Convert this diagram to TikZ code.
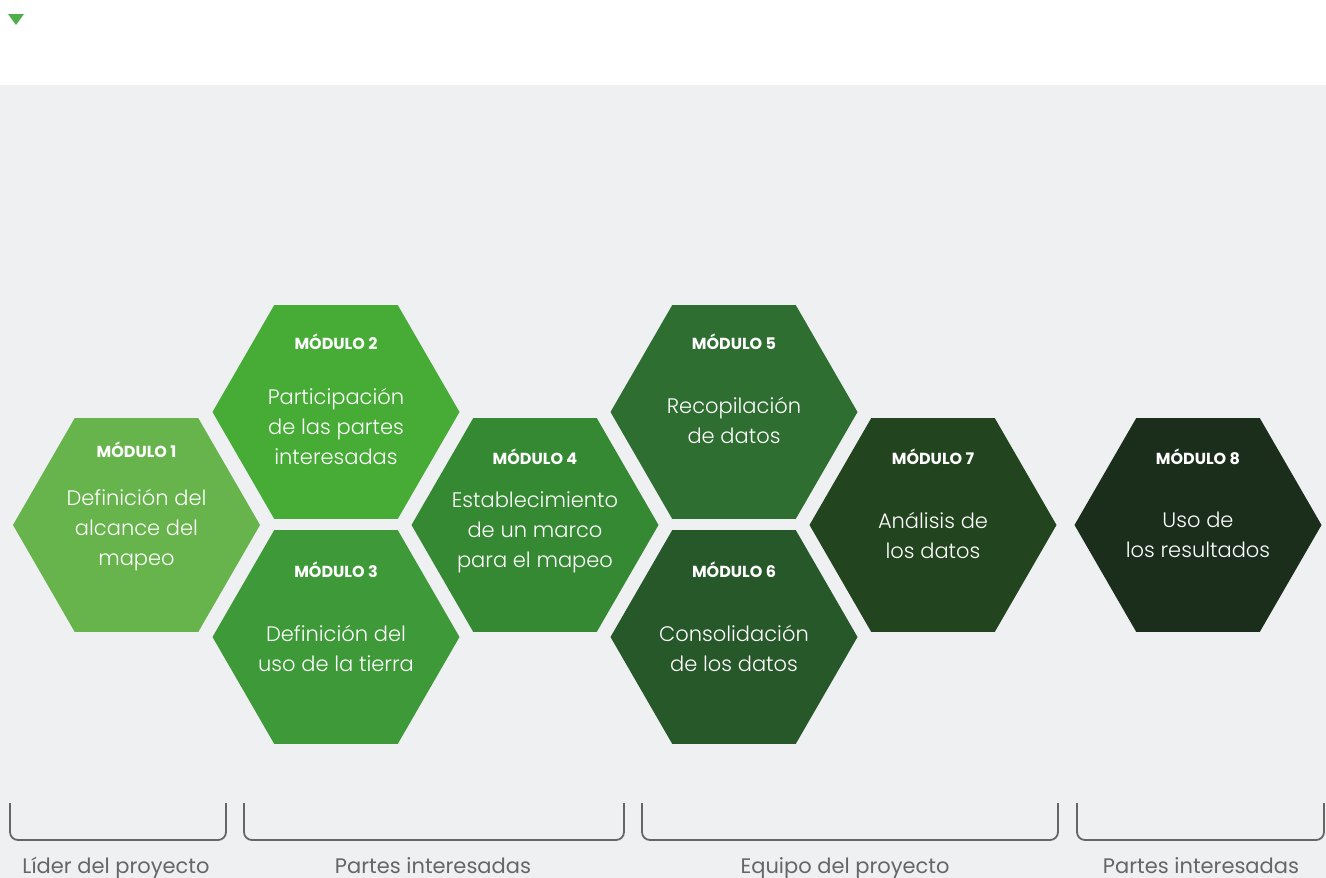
\documentclass[tikz,border=0pt]{standalone}
\usepackage{fontspec}
\setmainfont{Poppins}[UprightFont=* Light, BoldFont=* Bold]
\newfontfamily\grupofont{Poppins}
\usepackage{tikz}
\usetikzlibrary{shapes.geometric}

\definecolor{fondo}{HTML}{EFF0F2}
\definecolor{verdeM1}{HTML}{66B44B}
\definecolor{verdeM2}{HTML}{46AC36}
\definecolor{verdeM3}{HTML}{3E9A38}
\definecolor{verdeM4}{HTML}{368933}
\definecolor{verdeM5}{HTML}{2E6E31}
\definecolor{verdeM6}{HTML}{27582A}
\definecolor{verdeM7}{HTML}{22441F}
\definecolor{verdeM8}{HTML}{1B2E1C}
\definecolor{marca}{HTML}{4DAE4A}
\definecolor{llave}{HTML}{666666}

\tikzset{
  hexa/.style={shape=regular polygon, regular polygon sides=6, minimum size=247pt,
    inner sep=0pt, outer sep=0pt, draw=none},
  modtitulo/.style={text=white, font=\bfseries\fontsize{16}{18}\selectfont, inner sep=0pt},
  modtexto/.style={text=white, align=center, font=\fontsize{21}{30}\selectfont, inner sep=0pt},
  llaves/.style={draw=llave, line width=1.8pt, rounded corners=8pt},
  grupo/.style={text=llave, font=\grupofont\fontsize{21}{24}\selectfont, inner sep=0pt, anchor=base}
}

\begin{document}
\begin{tikzpicture}[x=1pt,y=-1pt]
\useasboundingbox (0,0) rectangle (1326,878);
%fondo
\fill[white] (0,0) rectangle (1326,85);
\fill[fondo] (0,85) rectangle (1326,878);
\fill[marca] (8,14) -- (24,14) -- (16,25) -- cycle;
%hexagonos
\foreach \n/\cx/\cy/\my/\ty/\txt in {
  1/136.5/525/450/530/{Definición del\\alcance del\\mapeo},
  2/336/412/342/426/{Participación\\de las partes\\interesadas},
  3/336/637/570/648/{Definición del\\uso de la tierra},
  4/535/525/457/532/{Establecimiento\\de un marco\\para el mapeo},
  5/734/412/342/420/{Recopilación\\de datos},
  6/734/637/570/648/{Consolidación\\de los datos},
  7/933/525/457/535/{Análisis de\\los datos},
  8/1198/525/457/535/{Uso de\\los resultados}}{
  \node[hexa, fill=verdeM\n] (hex\n) at (\cx,\cy) {};
  \node[modtitulo] (tit\n) at (\cx,\my) {MÓDULO \n};
  \node[modtexto] (txt\n) at (\cx,\ty) {\txt};
}
%llaves
\draw[llaves] (10,803) -- (10,840) -- (226,840) -- (226,803);
\draw[llaves] (244,803) -- (244,840) -- (624,840) -- (624,803);
\draw[llaves] (642,803) -- (642,840) -- (1058,840) -- (1058,803);
\draw[llaves] (1077,803) -- (1077,840) -- (1324,840) -- (1324,803);
%Text
\node[grupo] (lider) at (116,873) {Líder del proyecto};
\node[grupo] (partes1) at (433,873) {Partes interesadas};
\node[grupo] (equipo) at (845,873) {Equipo del proyecto};
\node[grupo] (partes2) at (1201,873) {Partes interesadas};
\end{tikzpicture}
\end{document}
